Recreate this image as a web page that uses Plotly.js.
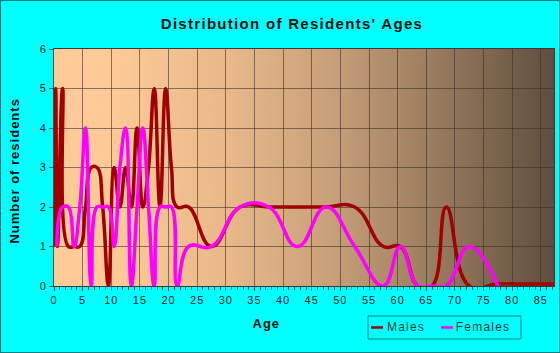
<!DOCTYPE html>
<html>
<head>
<meta charset="utf-8">
<script src="https://cdn.plot.ly/plotly-3.0.1.min.js"></script>
<style>
  html, body { margin: 0; padding: 0; background: #00FFFF; }
  #wrap { position: relative; width: 560px; height: 353px; }
  #chart { width: 560px; height: 353px; }
  #frame { position: absolute; left: 0; top: 0; width: 560px; height: 353px; box-sizing: border-box; border: 1px solid #008080; pointer-events: none; }
  .main-svg .gtitle { letter-spacing: 1.3px; }
  .main-svg .xtick text, .main-svg .ytick text { letter-spacing: 1px; }
  .main-svg .annotation-text { letter-spacing: 1px; }
  .main-svg .annotation.lgd .annotation-text { letter-spacing: 1.2px; }
</style>
</head>
<body>
<div id="wrap"><div id="chart"></div><div id="frame"></div></div>
<script>
// ---- data ----
var maleAges   = [0.05, 0.3, 0.6, 1.5, 2.5, 3.5, 4.5, 5.5, 6.5, 7.5, 8.5, 9.5, 10.5, 11.5, 12.5, 13.5, 14.5, 15.5, 16.5, 17.5, 18.5, 19.5, 20.5, 21.5, 23.5, 27.5, 32.5, 37.5, 42.5, 47.5, 52.5, 57.5, 60.5, 63.5, 66, 68.5, 72.5, 77.5, 82.5, 87.5];
var maleValues = [1, 5, 1, 5, 1, 1, 1, 2, 3, 3, 2, 0, 3, 2, 3, 2, 4, 2, 3, 5, 2, 5, 3, 2, 2, 1, 2, 2, 2, 2, 2, 1, 1, 0, 0, 2, 0, 0.05, 0.05, 0.05];
var femaleAges   = [0.5, 1.5, 2.5, 3.5, 4.5, 5.5, 6.5, 7.5, 8.5, 9.5, 10.5, 11.5, 12.5, 13.5, 14.5, 15.5, 16.5, 17.5, 18.5, 19.5, 20.5, 21.5, 23.5, 27.5, 32.5, 37.5, 42.5, 47.5, 52.5, 57.5, 60.5, 63.5, 66, 68.5, 72.5, 77.5];
var femaleValues = [1, 2, 2, 1, 2, 4, 0, 2, 2, 2, 1, 3, 4, 0, 2, 4, 2, 0, 2, 2, 2, 0, 1, 1, 2, 2, 1, 2, 1, 0, 1, 0, 0, 0, 1, 0];
var seriesNames = ["Males", "Females"];
var seriesColors = ['#A00000', '#FF00FF'];
var xTickVals = [0, 5, 10, 15, 20, 25, 30, 35, 40, 45, 50, 55, 60, 65, 70, 75, 80, 85];
var yTickVals = [0, 1, 2, 3, 4, 5, 6];

// ---- background gradient ----
var cv = document.createElement('canvas');
cv.width = 500; cv.height = 10;
var ctx = cv.getContext('2d');
var g = ctx.createLinearGradient(0, 0, 500, 0);
g.addColorStop(0, '#FFCC99');
g.addColorStop(0.12, '#FDCA97');
g.addColorStop(0.35, '#E8B88A');
g.addColorStop(0.55, '#C9A07A');
g.addColorStop(0.75, '#9C7E60');
g.addColorStop(1, '#5F4E3E');
ctx.fillStyle = g; ctx.fillRect(0, 0, 500, 10);
var bgUrl = cv.toDataURL('image/png');

var font = 'Liberation Sans, Arial, sans-serif';

var traces = [
  { x: maleAges, y: maleValues, name: seriesNames[0], type: 'scatter', mode: 'lines', showlegend: false,
    line: { color: seriesColors[0], width: 3.5, shape: 'spline', smoothing: 1.3 } },
  { x: femaleAges, y: femaleValues, name: seriesNames[1], type: 'scatter', mode: 'lines', showlegend: false,
    line: { color: seriesColors[1], width: 3.5, shape: 'spline', smoothing: 1.3 } }
];

// custom legend (box, line samples, labels) placed in paper coordinates
var legShapes = [
  { type: 'rect', xref: 'paper', yref: 'paper', x0: 0.628, x1: 0.934, y0: -0.1266, y1: -0.2236,
    line: { color: '#008080', width: 1 }, fillcolor: 'rgba(0,0,0,0)' },
  { type: 'line', xref: 'paper', yref: 'paper', x0: 0.634, x1: 0.658, y0: -0.175, y1: -0.175,
    line: { color: seriesColors[0], width: 2.5 } },
  { type: 'line', xref: 'paper', yref: 'paper', x0: 0.774, x1: 0.798, y0: -0.175, y1: -0.175,
    line: { color: seriesColors[1], width: 2.5 } }
];
var legAnn = [
  { text: seriesNames[0], xref: 'paper', yref: 'paper', x: 0.668, y: -0.175, xanchor: 'left', yanchor: 'middle',
    showarrow: false, font: { family: font, size: 12, color: '#1a3a3a' } },
  { text: seriesNames[1], xref: 'paper', yref: 'paper', x: 0.808, y: -0.175, xanchor: 'left', yanchor: 'middle',
    showarrow: false, font: { family: font, size: 12, color: '#1a3a3a' } }
];

var layout = {
  width: 560, height: 353,
  margin: { l: 54, r: 6, t: 49, b: 67 },
  paper_bgcolor: '#00FFFF',
  plot_bgcolor: 'rgba(0,0,0,0)',
  font: { family: font, color: '#1a2a2a' },
  title: { text: "Distribution of Residents' Ages", font: { family: font, size: 15, color: '#111', weight: 'bold' },
           x: 0.476, xref: 'paper', xanchor: 'center', y: 0.932, yref: 'container', yanchor: 'middle' },
  images: [{ source: bgUrl, xref: 'paper', yref: 'paper', x: 0, y: 1, sizex: 1, sizey: 1,
             sizing: 'stretch', xanchor: 'left', yanchor: 'top', layer: 'below' }],
  xaxis: {
    range: [0, 87.3], tickvals: xTickVals, ticktext: xTickVals.map(String),
    showgrid: true, gridcolor: 'rgba(60,50,40,0.6)', gridwidth: 1,
    showline: true, linecolor: '#3a3a3a', linewidth: 1, mirror: true,
    ticks: 'outside', ticklen: 4, tickcolor: '#2a6a6a',
    minor: { dtick: 1, tick0: 0, ticks: 'outside', ticklen: 3, tickcolor: '#2a6a6a', showgrid: false },
    tickfont: { family: font, size: 11, color: '#1a2a2a' },
    zeroline: false, fixedrange: true
  },
  yaxis: {
    range: [0, 6], tickvals: yTickVals, ticktext: yTickVals.map(String),
    showgrid: true, gridcolor: 'rgba(60,50,40,0.6)', gridwidth: 1,
    showline: true, linecolor: '#3a3a3a', linewidth: 1, mirror: true,
    ticks: 'outside', ticklen: 4, tickcolor: '#2a6a6a',
    tickfont: { family: font, size: 11, color: '#1a2a2a' },
    zeroline: false, fixedrange: true
  },
  shapes: legShapes,
  annotations: [
    { text: 'Number of residents', textangle: -90, xref: 'paper', yref: 'paper', x: -0.08, y: 0.485,
      xanchor: 'center', yanchor: 'middle', showarrow: false,
      font: { family: font, size: 13, color: '#111', weight: 'bold' } },
    { text: 'Age', xref: 'paper', yref: 'paper', x: 0.424, y: -0.160,
      xanchor: 'center', yanchor: 'middle', showarrow: false,
      font: { family: font, size: 13, color: '#111', weight: 'bold' } }
  ].concat(legAnn),
  showlegend: false
};

Plotly.newPlot('chart', traces, layout, { staticPlot: true, displayModeBar: false }).then(function () {
  var anns = document.querySelectorAll('.annotation');
  for (var i = 2; i < anns.length; i++) anns[i].classList.add('lgd');
});
</script>
</body>
</html>
